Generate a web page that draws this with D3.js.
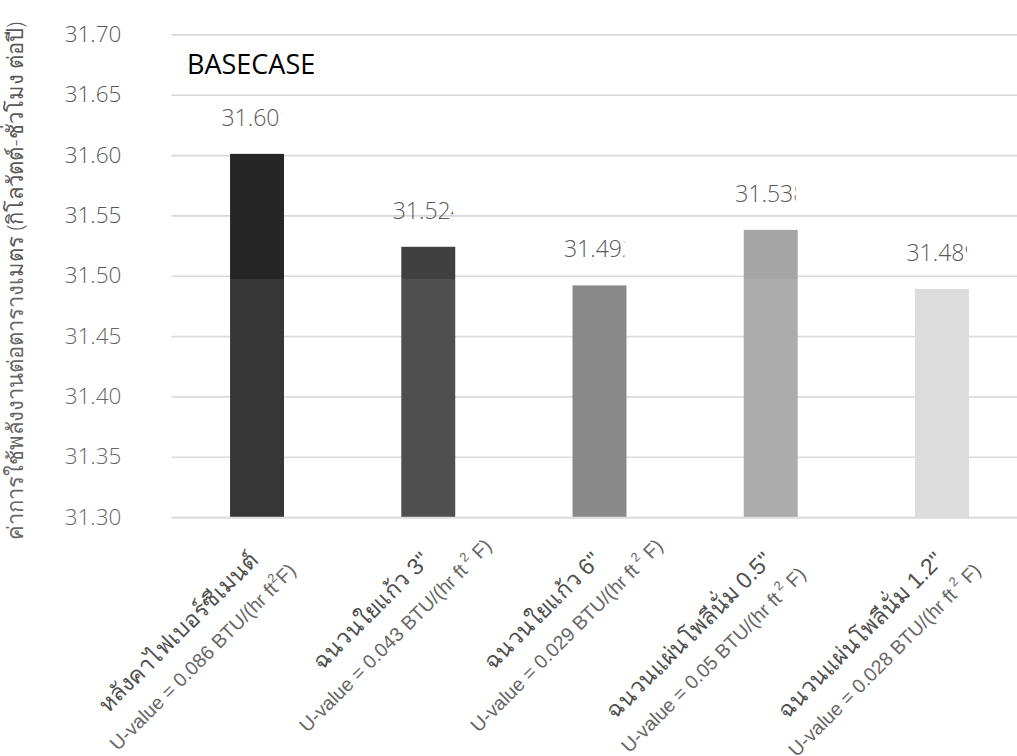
<!DOCTYPE html>
<html>
<head>
<meta charset="utf-8">
<script src="https://cdn.jsdelivr.net/npm/d3@7"></script>
<style>
  html, body { margin: 0; padding: 0; background: #fff; }
  svg { display: block; font-family: "Open Sans", "Noto Sans", sans-serif; }
</style>
</head>
<body>
<svg id="chart" width="1017" height="756"></svg>
<script>
// Annual energy use per square metre for each roof insulation option
const categories = [
  "หลังคาไฟเบอร์ซีเมนต์",
  "ฉนวนใยแก้ว 3\"",
  "ฉนวนใยแก้ว 6\"",
  "ฉนวนแผ่นโพลีนั่ม 0.5\"",
  "ฉนวนแผ่นโพลีนั่ม 1.2\""
];
const uValues = ["0.086", "0.043", "0.029", "0.05", "0.028"];
const energyUse = [31.601, 31.524, 31.492, 31.538, 31.489];
const barColors = ["#262626", "#404040", "#7f7f7f", "#a5a5a5", "#d9d9d9"];
const yTicks = [31.30, 31.35, 31.40, 31.45, 31.50, 31.55, 31.60, 31.65, 31.70];
const yTitle = "ค่าการใช้พลังงานต่อตารางเมตร (กิโลวัตต์-ชั่วโมง ต่อปี)";
const chartTitle = "BASECASE";

const svg = d3.select("#chart");
const W = 1017, H = 756;

const x = d3.scaleBand().domain(d3.range(categories.length)).range([171.4, 1027.6]).padding(0);
const y = d3.scaleLinear().domain([31.30, 31.70]).range([517.1, 34.4]);
const barW = x.bandwidth() * 0.315;

// horizontal gridlines from the value axis
const gAxisY = svg.append("g").attr("transform", "translate(171.4,0)")
  .call(d3.axisLeft(y).tickValues(yTicks).tickSize(-(1027.6 - 171.4)).tickFormat(d3.format(".2f")).tickPadding(50));
gAxisY.select(".domain").remove();
gAxisY.selectAll(".tick line").attr("stroke", "#d9d9d9").attr("stroke-width", 1.6);
gAxisY.selectAll(".tick text")
  .attr("fill", "#595959").attr("font-size", 22.5).attr("font-weight", 300)
  .attr("font-family", "'Open Sans', sans-serif");

// bars
svg.append("g").selectAll("rect").data(energyUse).join("rect")
  .attr("x", (d, i) => x(i) + x.bandwidth() / 2 - barW / 2)
  .attr("width", barW)
  .attr("y", d => y(d))
  .attr("height", d => y(31.30) - y(d))
  .attr("fill", (d, i) => barColors[i]);

// value labels, clipped to their label box
const defs = svg.append("defs");
const gLab = svg.append("g");
energyUse.forEach((v, i) => {
  const cx = x(i) + x.bandwidth() / 2;
  const t = gLab.append("text")
    .attr("x", cx).attr("y", y(v) - 28)
    .attr("text-anchor", "middle")
    .attr("fill", "#595959").attr("font-size", 23).attr("font-weight", 300)
    .text(v.toFixed(3));
  const node = t.node();
  const full = node.getComputedTextLength();
  const shown = node.getSubStringLength(0, 5);
  const left = cx - full / 2;
  defs.append("clipPath").attr("id", "vclip" + i)
    .append("rect").attr("x", left - 4).attr("y", y(v) - 60)
    .attr("width", shown + 6.5).attr("height", 50);
  t.attr("clip-path", `url(#vclip${i})`);
});

// category axis with two-line rotated labels
const gAxisX = svg.append("g").attr("transform", `translate(0,${y(31.30)})`)
  .call(d3.axisBottom(x).tickSize(0).tickFormat(""));
gAxisX.select(".domain").attr("stroke", "#d9d9d9").attr("stroke-width", 1.6);

const s = Math.SQRT1_2;
gAxisX.selectAll(".tick").each(function (i) {
  const g = d3.select(this);
  const ex = -3, ey = 39;         // end of the name line, relative to the tick
  const name = g.append("text")
    .attr("text-anchor", "end").attr("dy", "0.35em")
    .attr("transform", `translate(${ex},${ey}) rotate(-45)`)
    .attr("fill", "#404040").attr("font-size", 23).attr("font-weight", 300)
    .text(categories[i]);
  const L = name.node().getComputedTextLength();
  const mx = ex - (L / 2) * s, my = ey + (L / 2) * s;
  const gap = 35;
  const u = g.append("text")
    .attr("text-anchor", "middle").attr("dy", "0.35em")
    .attr("transform", `translate(${mx + gap * s},${my + gap * s}) rotate(-45)`)
    .attr("fill", "#595959").attr("font-size", 19.5).attr("font-weight", 300);
  u.append("tspan").text(`U-value = ${uValues[i]} BTU/(hr ft`);
  u.append("tspan").attr("font-size", 13).attr("dy", "-0.7em").text(i === 0 ? "2" : " 2");
  u.append("tspan").attr("dy", "0.45em").text(i === 0 ? "F)" : " F)");
});

// chart title
svg.append("text").attr("x", 187).attr("y", 74)
  .attr("fill", "#000").attr("font-size", 27).attr("font-weight", 500)
  .text(chartTitle);

// value axis title
svg.append("text")
  .attr("transform", "translate(15,281) rotate(-90)")
  .attr("text-anchor", "middle").attr("dy", "0.35em")
  .attr("fill", "#595959").attr("font-size", 22).attr("font-weight", 300)
  .text(yTitle);

// faint page wash over the lower part of the sheet
svg.append("rect").attr("x", 0).attr("y", 279).attr("width", W).attr("height", H - 279)
  .attr("fill", "#fff").attr("opacity", 0.08).attr("pointer-events", "none");
</script>
</body>
</html>
